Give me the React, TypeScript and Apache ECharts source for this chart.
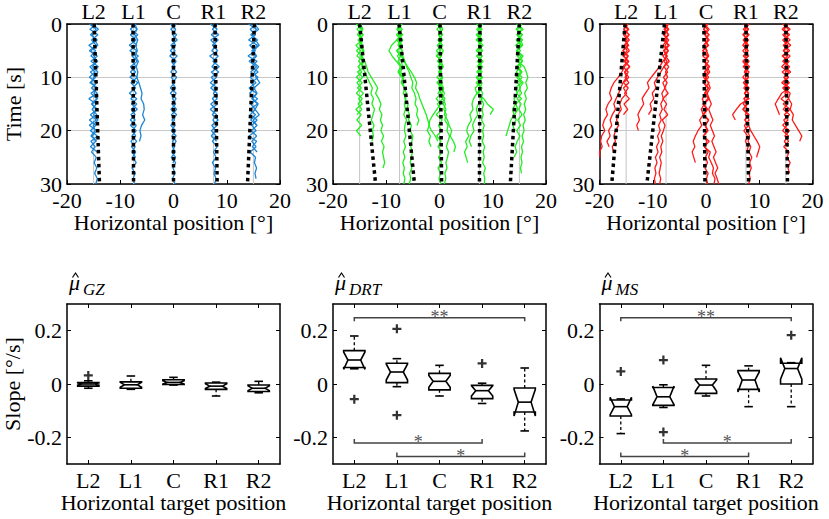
import React, { useEffect, useRef } from "react";
import * as echarts from "echarts";

const FONT = "'Liberation Serif', 'Times New Roman', serif";

const targetNames = ["L2", "L1", "C", "R1", "R2"];
const targetPos = [-15, -7.5, 0, 7.5, 15];
const boxPos = [1, 2, 3, 4, 5];
const slopeTicks = [-0.2, 0, 0.2];
const panelSubs = ["GZ", "DRT", "MS"];

// ---- top row: horizontal deviation (deg) from the target, one sample per second ----
const gzL2 = [
  [-0.8, 0.5, -0.6, 0.7, -0.9, 0.4, -0.5, 0.8, -0.7, 0.3, -0.8, 0.6, -0.4, 0.7, -0.9, 0.5, -0.3, 0.6, -0.8, 0.4, -0.6, 0.7, -0.5, 0.3, -0.4, 0.5, 0.1, 0.6, 0.2, 0.7, 0.4],
  [0.6, -0.7, 0.8, -0.4, 0.5, -0.8, 0.7, -0.5, 0.9, -0.6, 0.4, -0.7, 0.8, -0.5, 0.6, -0.4, 0.7, -0.6, 0.5, -0.8, 0.6, -0.3, 0.4, -0.6, 0.7],
  [-0.2, 0.9, -0.3, 0.2, 0.8, -0.5, 0.1, 0.6, -0.2, 0.8, 0.0, -0.4, 0.5, 0.1, 0.7, -0.3, 0.4, 0.0, 0.8, -0.1, 0.3, -0.5, 0.6],
];
const gzL1 = [
  [0.5, -0.6, 0.8, -0.4, 0.6, -0.7, 0.9, -0.3, 0.5, -0.6, 0.7, -0.5, 0.4, -0.8, 0.6, -0.4, 0.7, -0.5, 0.3, -0.6, 0.5, -0.3, 0.6, -0.4, 0.4, -0.2, 0.5, -0.3, 0.3, -0.1, 0.2],
  [-0.4, 0.7, -0.6, 0.5, -0.8, 0.6, -0.3, 0.7, -0.6, 0.4, -0.7, 0.8, -0.2, 0.5, -0.5, 0.6, -0.4, 0.3, -0.6, 0.5, -0.2, 0.4, -0.5, 0.3, -0.3, 0.4],
  [0.3, 0.6, 0.2, 0.8, 0.4, 0.7, 0.3, 0.9, 0.5, 0.8, 0.6, 1.0, 1.3, 1.6, 1.4, 1.9, 2.0, 1.7, 2.1, 1.5, 1.2, 1.4, 1.1],
];
const gzC = [
  [0.5, -0.5, 0.6, -0.3, 0.4, -0.6, 0.7, -0.4, 0.3, -0.5, 0.6, -0.2, 0.4, -0.6, 0.5, -0.3, 0.6, -0.4, 0.2, -0.5, 0.4, -0.3, 0.5, -0.2, 0.3, -0.4, 0.4, -0.1, 0.3, -0.2, 0.3],
  [-0.6, 0.4, -0.2, 0.7, -0.5, 0.3, -0.7, 0.5, -0.3, 0.6, -0.4, 0.2, -0.6, 0.5, -0.2, 0.4, -0.5, 0.6, -0.3, 0.3, -0.4, 0.5, -0.2, 0.2, -0.3, 0.4, -0.1],
];
const gzR1 = [
  [-0.6, 0.7, -0.4, 0.9, -0.2, 0.8, -0.7, 0.6, -0.3, 1.0, -0.4, 0.5, -0.5, 0.7, -0.2, 0.8, -0.6, 0.6, -0.1, 0.7, -0.4, 0.5, -0.2, 0.7, 0.0, 0.5, -0.2, 0.4, 0.1, 0.5, 0.2],
  [0.8, -0.2, 1.0, -0.5, 0.5, -0.3, 0.9, -0.1, 1.1, -0.4, 0.6, -0.6, 0.8, 0.0, 0.7, -0.5, 0.5, -0.2, 0.9, -0.3, 0.4, -0.4, 0.6],
];
const gzR2 = [
  [-0.9, 0.6, -0.5, 0.8, -0.7, 0.4, -1.0, 0.7, -0.4, 0.9, -0.6, 0.5, -0.8, 0.6, -0.3, 0.8, -0.7, 0.4, -0.5, 0.7, -0.4, 0.6, -0.3, 0.5, -0.6, 0.4, 0.2, 0.6, 0.3, 0.5],
  [0.7, -0.6, 0.4, -0.9, 0.8, -0.3, 0.5, -0.8, 0.6, -0.5, 0.9, -0.4, 0.3, -0.7, 0.8, -0.5, 0.4, -0.6, 0.7, -0.3, 0.5, -0.8, 0.6, -0.2, 0.7],
  [0.2, 1.0, -0.2, 0.4, 1.1, 0.0, 0.6, -0.3, 1.0, 0.2, 0.5, 1.2, 0.1, 0.7, -0.1, 0.9, 0.3, 1.1, 0.0, 0.6],
];

const drtL2 = [
  [0.4, -0.5, 0.7, -0.3, 0.6, -0.6, 0.5, -0.2, 0.8, -0.4, 0.6, -0.5, 0.3, -0.6, 0.5, -0.3, 0.4, -0.5],
  [-0.6, 0.3, -0.4, 0.6, -0.7, 0.2, -0.5, 0.7, -0.3, 0.4, -0.6, 0.5, -0.4, 0.7, -0.2, 0.5, -0.7, 0.3, -0.5, 0.4, -0.6, 0.2],
  [0.2, 0.6, 0.1, 0.5, 0.3, 0.8, 0.4, 1.0, 1.3, 1.6, 2.2, 2.8, 3.4, 3.0, 3.6, 4.0, 3.7, 4.2, 3.9, 4.3, 4.0, 4.5, 4.1, 4.6, 4.3, 4.5, 4.7, 4.4],
  [-0.3, 0.5, -0.1, 0.4, 0.0, 0.6, 0.2, 0.7, 0.4, 1.0, 1.4, 1.9, 2.4, 2.1, 2.6, 2.3, 2.8, 2.5, 2.2, 2.7, 2.4, 2.6, 2.3],
];
const drtL1 = [
  [0.3, -0.4, 0.6, -0.5, -1.5, -2.0, -1.4, -0.6, 0.2, -0.3, 0.4],
  [-0.4, 0.5, -0.3, 0.6, -0.2, 0.5, 0.3, 0.9, 1.5, 2.2, 2.8, 3.2, 3.0, 3.5, 3.8, 4.2, 4.6, 5.0, 5.3, 5.6, 5.2, 5.8, 5.5, 5.9],
  [0.5, -0.2, 0.4, -0.5, 0.3, -0.4, 0.6, 1.0, 1.3, 1.8, 2.1, 2.5, 2.3, 2.8, 3.1, 2.9, 3.4, 3.2, 3.6, 3.3],
  [-0.2, 0.4, -0.6, 0.2, -0.3, 0.5, -0.4, 0.3, 0.6, 0.2, 0.8, 0.5, 1.0, 0.7, 1.2, 0.9, 1.1, 0.8, 1.3, 1.0, 0.9, 1.2, 0.8, 1.1, 0.7, 1.0, 0.6, 0.9, 0.7, 1.0, 0.8],
  [0.1, -0.5, 0.3, -0.2, 0.5, -0.6, 0.2, -0.3, 0.4, -0.1, 0.6, 0.3, 0.9, 1.3, 1.0, 1.6, 1.4, 1.9, 1.7, 2.2, 2.0, 2.5, 2.3, 2.1, 2.4, 2.2, 2.0, 2.3, 1.9, 2.1, 1.8],
];
const drtC = [
  [0.4, -0.5, 0.6, -0.3, 0.5, -0.6, 0.3, -0.4, 0.7, -0.2, 0.5, -0.5, 0.4, -0.3, 0.6, -0.4, 0.3, -0.6, 0.5, -0.2, 0.4, -0.5, 0.3, -0.3, 0.5, -0.2, 0.4, -0.3, 0.2, -0.1, 0.3],
  [-0.5, 0.3, -0.2, 0.6, -0.4, 0.2, -0.6, 0.5, -0.3, 0.4, -0.5, 0.6, -0.2, 0.3, -0.6, 0.2, -0.5, -1.2, -1.8, -2.0, -1.5, -0.8, -0.3],
  [0.2, 0.6, -0.1, 0.4, 0.0, 0.7, 0.3, -0.2, 0.5, 0.1, 0.6, 0.2, 0.8, 0.4, 1.0, 0.7, 1.2, 0.9, 1.5, 1.8, 2.3, 2.0, 2.6, 3.0, 2.7],
  [-0.3, 0.2, 0.5, -0.2, 0.6, 0.1, -0.4, 0.3, 0.7, 0.0, 0.4, -0.3, 0.5, 0.9, 0.6, 1.1, 0.8, 1.3, 1.0, 1.6, 1.4, 1.9, 1.6, 1.3, 1.7, 1.5, 1.2, 1.4, 1.0, 1.2, 0.9],
];
const drtR1 = [
  [0.4, -0.5, 0.3, -0.6, 0.7, -0.3, 0.5, -0.4, 0.6, -0.2, 0.4, -0.6, 0.5, -0.3, 0.8, 1.5, 2.6, 2.0],
  [-0.3, 0.5, -0.6, 0.4, -0.2, 0.6, -0.5, 0.3, -0.4, 0.5, -0.6, 0.2, -0.8, -0.5, -1.1, -1.4, -1.2, -1.8, -1.5, -2.1, -2.4, -2.0, -2.6, -2.3, -2.8, -2.5, -2.2],
  [0.6, -0.2, 0.4, -0.4, 0.2, -0.6, 0.5, -0.1, 0.3, -0.5, 0.6, -0.3, 0.2, -0.4, 0.5, -0.2, -0.6, -0.3, -0.9, -1.3, -1.0, -1.6, -1.9, -1.5],
  [-0.5, 0.2, -0.3, 0.6, -0.1, 0.4, -0.5, 0.7, -0.2, 0.3, -0.4, 0.5, 0.1, 0.6, 0.3, 0.8, 0.5, 0.7, 0.4, 0.9, 0.6, 0.8, 0.5, 1.0, 0.7, 0.9, 0.6, 1.1, 0.8, 1.0, 0.9],
];
const drtR2 = [
  [0.5, -0.4, 0.6, -0.6, 0.3, -0.5, 0.7, -0.3, 0.9, 1.3, 1.6, 1.2, 1.5, 1.0, 1.3, 0.9, 1.2, 0.8, 1.1, 0.7, 0.9, 0.5, 0.8, 0.4, 0.6, 0.3, 0.5, 0.2, 0.4],
  [-0.5, 0.4, -0.3, 0.6, -0.7, 0.2, -0.4, 0.5, -0.6, 0.3, -0.5, 0.4, -0.8, -0.4, -1.0, -0.7, -1.3, -1.0, -1.6, -1.9, -2.2, -2.5],
  [0.2, -0.6, 0.5, -0.2, 0.4, -0.5, 0.6, -0.1, 0.3, -0.6, 0.5, -0.3, 0.2, -0.5, 0.4, -0.7, -0.3, -0.9, -0.6, -1.2, -0.9],
  [-0.2, 0.7, -0.5, 0.3, 0.6, -0.4, 0.2, 0.6, -0.3, 0.5, -0.2, 0.7, 0.0, 0.4, -0.4, 0.3, -0.1, 0.5, -0.3, 0.2, -0.5, 0.1, -0.4, -0.8, -0.5, -1.0],
];

const msL2 = [
  [0.4, -0.5, 0.6, -0.3, 0.5, -0.6, 0.3, -0.4, 0.7, -0.2, 0.5, -0.5, 0.4, -0.3, 0.6, -0.4, 0.3, -0.5],
  [-0.5, 0.3, -0.2, 0.6, -0.4, 0.2, -0.6, 0.5, -0.3, -0.8, -1.5, -2.3, -2.8, -3.1, -2.7, -3.4, -3.8, -3.5, -4.1, -4.4, -4.0, -4.6, -4.8, -4.5, -5.0, -4.9],
  [0.2, -0.4, 0.5, -0.1, 0.3, -0.6, 0.4, -0.2, 0.6, -0.3, 0.1, -0.6, -1.0, -1.4, -1.9, -2.3, -2.0, -2.6, -3.0, -2.7, -3.3, -3.0, -3.6, -3.2],
  [-0.3, 0.5, -0.5, 0.2, -0.1, 0.6, -0.4, 0.3, -0.6, 0.4, -0.2, 0.5, -0.5, 0.1, -0.8, -1.2, -0.9, -1.5, -1.8, -1.4, -2.0, -2.3, -2.0, -2.6, -2.4],
];
const msL1 = [
  [0.3, -0.4, 0.5, -0.2, 0.4, -0.5, 0.2, -0.6, -1.2, -2.0, -2.8, -3.5, -3.2, -3.9, -4.5, -4.2, -4.8, -5.3, -5.0, -5.5, -5.2],
  [-0.4, 0.3, -0.5, 0.5, -0.2, 0.4, -0.6, 0.2, -0.4, -1.0, -1.6, -2.2, -1.9, -2.6, -2.3, -3.0, -2.7, -3.3],
  [0.5, -0.2, 0.4, -0.5, 0.6, -0.3, 0.2, -0.4, 0.5, -0.1, 0.3, -0.6, -0.2, -0.8, -0.5, -1.0, -0.7, -1.2, -0.9, -1.4, -1.1, -1.6, -1.3, -1.8, -1.5, -2.0, -1.7, -2.1, -1.9, -2.2, -2.0],
  [-0.2, 0.5, -0.3, 0.2, -0.6, 0.4, -0.1, 0.6, -0.4, 0.3, -0.5, 0.2, -0.3, 0.4, -0.6, 0.1, -0.4, 0.3, -0.7, -0.2, -0.5, -0.9, -0.6, -1.0, -0.8, -1.2, -0.9, -1.1, -1.3, -1.0, -1.2],
];
const msC = [
  [0.4, -0.5, 0.6, -0.3, 0.5, -0.6, 0.3, -0.4, 0.7, -0.2, 0.5, -0.5, 0.4, -0.3, 0.6, -0.4, 0.3, -0.6, 0.5, -0.2, 0.4, -0.5, 0.6, -0.3, 0.8, 0.5, 1.0, 1.4, 1.2, 1.7, 1.5],
  [-0.5, 0.3, -0.2, 0.6, -0.4, 0.2, -0.6, 0.5, -0.3, 0.4, -0.5, 0.6, -0.2, 0.3, -0.7, -0.3, -0.9, -0.5, -1.2, -0.8, -1.5, -2.0, -2.4, -2.1, -2.6, -2.3, -2.0],
  [0.2, -0.4, 0.5, -0.1, 0.3, -0.6, 0.4, -0.2, 0.6, -0.3, 0.1, -0.5, 0.5, -0.2, 0.4, -0.6, 0.2, -0.4, 0.5, -0.1, 0.3, -0.5, 0.2, -0.3, 0.4, -0.1, 0.3, -0.2, 0.4, 0.1, 0.3],
  [-0.3, 0.6, -0.2, 0.4, -0.5, 0.1, 0.5, -0.3, 0.2, 0.7, -0.1, 0.4, 0.8, 0.2, 0.6, 1.0, 0.5, 0.9, 1.3, 0.8, 1.2, 1.6, 1.1, 1.5, 1.9, 1.4, 1.8, 2.2, 1.7, 2.1, 2.4],
];
const msR1 = [
  [0.4, -0.5, 0.6, -0.3, 0.5, -0.6, 0.3, -0.4, 0.7, -0.2, 0.5, -0.5, 0.4, -0.3, 0.6, -1.0, -1.8, -2.5, -2.0],
  [-0.4, 0.3, -0.6, 0.5, -0.2, 0.4, -0.5, 0.6, -0.3, 0.2, -0.6, 0.4, -0.1, 0.5, -0.4, 0.3, -0.5, 0.6, -0.2, 0.5, 0.9, 1.5, 2.1, 2.6, 2.3, 2.0],
  [0.6, -0.2, 0.4, -0.5, 0.3, -0.1, 0.5, -0.6, 0.2, -0.3, 0.5, -0.4, 0.6, -0.2, 0.3, -0.5, 0.4, -0.1, 0.6, -0.3, 0.2, 0.7, 0.4, 0.9, 0.6, 1.1, 0.7, 1.0, 0.6, 0.8, 0.5],
  [-0.2, 0.5, -0.4, 0.1, -0.6, 0.4, -0.2, 0.3, -0.5, 0.6, -0.1, 0.3, -0.4, 0.5, -0.3, 0.2, -0.6, 0.4, -0.2, 0.5, -0.4, 0.3, -0.1, 0.4, 0.2],
];
const msR2 = [
  [0.5, -0.4, 0.7, -0.6, 0.4, -0.5, 0.8, -0.3, 0.6, -0.7, 0.5, -0.4, 0.7, -0.8, -1.4, -2.0, -1.6, -1.2],
  [-0.6, 0.5, -0.3, 0.8, -0.5, 0.4, -0.7, 0.6, -0.2, 0.9, -0.4, 0.6, -0.3, 0.8, 0.5, 1.1, 0.8, 1.4, 1.2, 1.8, 2.4, 3.0, 2.6],
  [0.3, -0.7, 0.5, -0.2, 0.9, -0.4, 0.3, -0.6, 0.7, -0.1, 0.4, -0.8, 0.6, -0.2, 0.5, -0.5, 0.8, -0.3, 0.4, -0.6, 0.7, -0.2, 0.5, -0.4, 0.6, 0.2, 0.8, 0.4, 0.7],
  [-0.4, 0.8, -0.6, 0.3, -0.2, 0.7, -0.5, 0.2, -0.8, 0.5, -0.3, 0.6, -0.6, 0.4, -0.9, 0.3, -0.5, 0.7, -0.4, 0.2, -0.6, 0.5, -0.3, 0.4],
];

// fitted lines (position at t = 0 s and t = 30 s)
const gzFitStart = [-14.9, -7.6, 0, 7.8, 15.2];
const gzFitEnd = [-13.9, -7.5, 0, 8.2, 13.9];
const drtFitStart = [-15, -7.6, 0.1, 7.6, 15];
const drtFitEnd = [-12, -4.7, 0.4, 7.5, 13.3];
const msFitStart = [-15.2, -7.8, -0.4, 7.5, 15];
const msFitEnd = [-17.7, -11.1, -0.2, 8.0, 15.3];

// ---- bottom row: slope box plots [low whisker, q1, median, q3, high whisker, notch low, notch high] ----
const gzBoxes = [
  [-0.016, -0.008, 0.0, 0.005, 0.012, -0.004, 0.004],
  [-0.02, -0.016, -0.003, 0.008, 0.03, -0.012, 0.006],
  [-0.004, -0.002, 0.006, 0.016, 0.025, 0.0, 0.012],
  [-0.045, -0.02, -0.008, 0.004, 0.007, -0.017, 0.001],
  [-0.033, -0.028, -0.016, -0.004, 0.01, -0.025, -0.007],
];
const gzOutliers = [[1, 0.032]];

const drtBoxes = [
  [0.057, 0.062, 0.09, 0.125, 0.18, 0.055, 0.12],
  [-0.01, 0.005, 0.045, 0.078, 0.095, 0.015, 0.075],
  [-0.045, -0.022, 0.01, 0.04, 0.07, -0.012, 0.032],
  [-0.073, -0.055, -0.025, -0.005, 0.003, -0.045, -0.006],
  [-0.176, -0.105, -0.068, -0.015, 0.06, -0.12, -0.02],
];
const drtOutliers = [[1, -0.057], [2, 0.207], [2, -0.117], [4, 0.077]];
const drtBrackets = [[1, 5, 0.248], [1, 4, -0.221], [2, 5, -0.272]];
const drtStars = ["**", "*", "*"];

const msBoxes = [
  [-0.186, -0.12, -0.085, -0.06, -0.056, -0.115, -0.05],
  [-0.088, -0.08, -0.048, -0.013, -0.003, -0.078, -0.008],
  [-0.045, -0.035, -0.004, 0.019, 0.07, -0.027, 0.016],
  [-0.085, -0.02, 0.015, 0.05, 0.068, -0.03, 0.045],
  [-0.085, 0.0, 0.058, 0.078, 0.08, 0.018, 0.098],
];
const msOutliers = [[1, 0.047], [2, 0.09], [2, -0.18], [5, 0.183]];
const msBrackets = [[1, 5, 0.248], [2, 5, -0.221], [1, 4, -0.272]];
const msStars = ["**", "*", "*"];

const topPanels = [
  { traces: [gzL2, gzL1, gzC, gzR1, gzR2], fitStart: gzFitStart, fitEnd: gzFitEnd, color: "#1c86d6" },
  { traces: [drtL2, drtL1, drtC, drtR1, drtR2], fitStart: drtFitStart, fitEnd: drtFitEnd, color: "#22ee22" },
  { traces: [msL2, msL1, msC, msR1, msR2], fitStart: msFitStart, fitEnd: msFitEnd, color: "#ff1a1a" },
];
const bottomPanels = [
  { boxes: gzBoxes, outliers: gzOutliers, brackets: [] as number[][], stars: [] as string[] },
  { boxes: drtBoxes, outliers: drtOutliers, brackets: drtBrackets, stars: drtStars },
  { boxes: msBoxes, outliers: msOutliers, brackets: msBrackets, stars: msStars },
];

const LEFTS = [67, 333, 599.5];
const PW = 213;

function buildOption() {
  const grid: any[] = [];
  const xAxis: any[] = [];
  const yAxis: any[] = [];
  const series: any[] = [];
  const graphic: any[] = [];

  const axisLine = { show: true, onZero: false, lineStyle: { color: "#000", width: 1.5 } };
  const tick = { show: true, inside: true, length: 4, lineStyle: { color: "#000", width: 1 } };
  const lbl = { color: "#000", fontSize: 22, fontFamily: FONT };

  topPanels.forEach((pnl, p) => {
    grid.push({ left: LEFTS[p], top: 24, width: PW, height: 160, outerBoundsMode: "none" });
    xAxis.push({
      gridIndex: p, type: "value", min: -20, max: 20, interval: 10, position: "bottom",
      axisLine, axisTick: tick, axisLabel: { ...lbl, margin: 8, lineHeight: 16 }, splitLine: { show: false },
      name: "Horizontal position [°]", nameLocation: "middle", nameGap: 25, nameTextStyle: { ...lbl },
    });
    xAxis.push({
      gridIndex: p, type: "value", min: -20, max: 20, position: "top",
      axisLine, axisTick: { ...tick, customValues: targetPos },
      axisLabel: { ...lbl, margin: 2, customValues: targetPos, formatter: (v: number) => targetNames[targetPos.indexOf(v)] ?? "" },
      splitLine: { show: false },
    });
    yAxis.push({
      gridIndex: p, type: "value", min: 0, max: 30, interval: 10, inverse: true, position: "left",
      axisLine, axisTick: tick, axisLabel: { ...lbl, margin: 5, lineHeight: 16 },
      splitLine: { show: true, lineStyle: { color: "#c8c8c8", width: 1 } },
      name: p === 0 ? "Time [s]" : "", nameLocation: "middle", nameGap: 43, nameTextStyle: { ...lbl },
    });
    yAxis.push({
      gridIndex: p, type: "value", min: 0, max: 30, interval: 10, inverse: true, position: "right",
      axisLine, axisTick: tick, axisLabel: { show: false }, splitLine: { show: false },
    });
    const xi = 2 * p;
    targetPos.forEach((tp) => {
      series.push({
        type: "line", xAxisIndex: xi, yAxisIndex: xi, data: [[tp, 0], [tp, 30]], showSymbol: false, silent: true,
        lineStyle: { color: "#c4c4c4", width: 1 }, z: 1,
      });
    });
    pnl.traces.forEach((group, k) => {
      group.forEach((tr) => {
        series.push({
          type: "line", xAxisIndex: xi, yAxisIndex: xi, showSymbol: false, silent: true,
          data: tr.map((d, i) => [targetPos[k] + d, i]),
          lineStyle: { color: pnl.color, width: 1.3 }, z: 2,
        });
      });
    });
    pnl.fitStart.forEach((s, k) => {
      series.push({
        type: "line", xAxisIndex: xi, yAxisIndex: xi, showSymbol: false, silent: true,
        data: [[s, 0], [pnl.fitEnd[k], 30]],
        lineStyle: { color: "#000", width: 3.5, type: [3.5, 3.5] }, z: 5,
      });
    });
  });

  bottomPanels.forEach((pnl, p) => {
    const gi = 3 + p;
    grid.push({ left: LEFTS[p], top: 304, width: PW, height: 160, outerBoundsMode: "none" });
    xAxis.push({
      gridIndex: gi, type: "value", min: 0.5, max: 5.5, position: "bottom",
      axisLine, axisTick: { ...tick, customValues: boxPos },
      axisLabel: { ...lbl, margin: 5, customValues: boxPos, formatter: (v: number) => targetNames[Math.round(v) - 1] ?? "" },
      splitLine: { show: false },
      name: "Horizontal target position", nameLocation: "middle", nameGap: 27, nameTextStyle: { ...lbl },
    });
    xAxis.push({
      gridIndex: gi, type: "value", min: 0.5, max: 5.5, position: "top",
      axisLine, axisTick: { ...tick, customValues: boxPos }, axisLabel: { show: false }, splitLine: { show: false },
    });
    yAxis.push({
      gridIndex: gi, type: "value", min: -0.3, max: 0.3, position: "left",
      axisLine, axisTick: { ...tick, customValues: slopeTicks },
      axisLabel: { ...lbl, margin: 5, customValues: slopeTicks, formatter: (v: number) => (Math.abs(v) < 1e-9 ? "0" : v.toFixed(1)) },
      splitLine: { show: false },
      name: p === 0 ? "Slope [°/s]" : "", nameLocation: "middle", nameGap: 43, nameTextStyle: { ...lbl },
    });
    yAxis.push({
      gridIndex: gi, type: "value", min: -0.3, max: 0.3, position: "right",
      axisLine, axisTick: { ...tick, customValues: slopeTicks }, axisLabel: { show: false }, splitLine: { show: false },
    });
    const ai = 6 + 2 * p;
    series.push({
      type: "custom", coordinateSystem: "cartesian2d", xAxisIndex: ai, yAxisIndex: ai, silent: true, z: 4,
      data: pnl.boxes.map((b, i) => [boxPos[i], ...b]),
      renderItem: (params: any, api: any) => {
        const x = api.value(0);
        const lo = api.value(1), q1 = api.value(2), med = api.value(3), q3 = api.value(4), hi = api.value(5);
        const nlo = api.value(6), nhi = api.value(7);
        const hw = 0.25, inset = 0.1, cap = 0.1;
        const P = (dx: number, y: number) => api.coord([x + dx, y]);
        const st = { stroke: "#000", lineWidth: 1.6, fill: "none" };
        const dash = { stroke: "#000", lineWidth: 1.3, lineDash: [3, 2.5], fill: "none" };
        const ln = (a: number[], b: number[], s: any) => ({ type: "line", shape: { x1: a[0], y1: a[1], x2: b[0], y2: b[1] }, style: s });
        return {
          type: "group",
          children: [
            ln(P(0, q3), P(0, hi), dash),
            ln(P(0, q1), P(0, lo), dash),
            ln(P(-cap, hi), P(cap, hi), st),
            ln(P(-cap, lo), P(cap, lo), st),
            {
              type: "polygon",
              shape: {
                points: [P(-hw, q1), P(-hw, nlo), P(-hw + inset, med), P(-hw, nhi), P(-hw, q3),
                  P(hw, q3), P(hw, nhi), P(hw - inset, med), P(hw, nlo), P(hw, q1)],
              },
              style: { stroke: "#000", lineWidth: 1.6, fill: "#fff" },
            },
            ln(P(-hw + inset, med), P(hw - inset, med), st),
          ],
        };
      },
    });
    series.push({
      type: "scatter", xAxisIndex: ai, yAxisIndex: ai, silent: true, z: 5,
      symbol: "path://M3,0H5V3H8V5H5V8H3V5H0V3H3Z", symbolSize: 9,
      itemStyle: { color: "#000" }, data: pnl.outliers,
    });
    if (pnl.brackets.length) {
      const stars = pnl.stars;
      series.push({
        type: "custom", coordinateSystem: "cartesian2d", xAxisIndex: ai, yAxisIndex: ai, silent: true, z: 3,
        data: pnl.brackets,
        renderItem: (params: any, api: any) => {
          const x1 = api.value(0), x2 = api.value(1), y = api.value(2);
          const tip = y > 0 ? -0.013 : 0.015;
          const a = api.coord([x1, y + tip]), b = api.coord([x1, y]), c = api.coord([x2, y]), d = api.coord([x2, y + tip]);
          const m = api.coord([(x1 + x2) / 2, y]);
          return {
            type: "group",
            children: [
              { type: "polyline", shape: { points: [a, b, c, d] }, style: { stroke: "#444", lineWidth: 1.5, fill: "none" } },
              {
                type: "text", x: m[0], y: m[1] - 1,
                style: { text: stars[params.dataIndex], fill: "#555", fontSize: 18, fontFamily: FONT, align: "center", verticalAlign: "middle" },
              },
            ],
          };
        },
      });
    }
    // panel title: mu with a hat and a subscript
    graphic.push({
      type: "text", x: LEFTS[p] + 2, y: 282.5,
      style: { text: "\u03BC", fill: "#000", fontSize: 22, fontStyle: "italic", fontFamily: FONT, align: "left", verticalAlign: "middle" },
    });
    graphic.push({
      type: "polyline",
      shape: { points: [[LEFTS[p] + 5.5, 277.5], [LEFTS[p] + 8.5, 273], [LEFTS[p] + 11.5, 277.5]] },
      style: { stroke: "#000", lineWidth: 1.2, fill: "none" },
    });
    graphic.push({
      type: "text", x: LEFTS[p] + 16, y: 289,
      style: { text: panelSubs[p], fill: "#000", fontSize: 17, fontStyle: "italic", fontFamily: FONT, align: "left", verticalAlign: "middle" },
    });
  });

  return { animation: false, backgroundColor: "#fff", grid, xAxis, yAxis, series, graphic };
}

export default function App() {
  const ref = useRef<HTMLDivElement>(null);
  useEffect(() => {
    if (!ref.current) return;
    const chart = echarts.init(ref.current, undefined, { renderer: "svg" });
    chart.setOption(buildOption() as any);
    return () => chart.dispose();
  }, []);
  return <div ref={ref} style={{ position: "absolute", left: 0, top: 0, width: 829, height: 519, background: "#fff" }} />;
}
